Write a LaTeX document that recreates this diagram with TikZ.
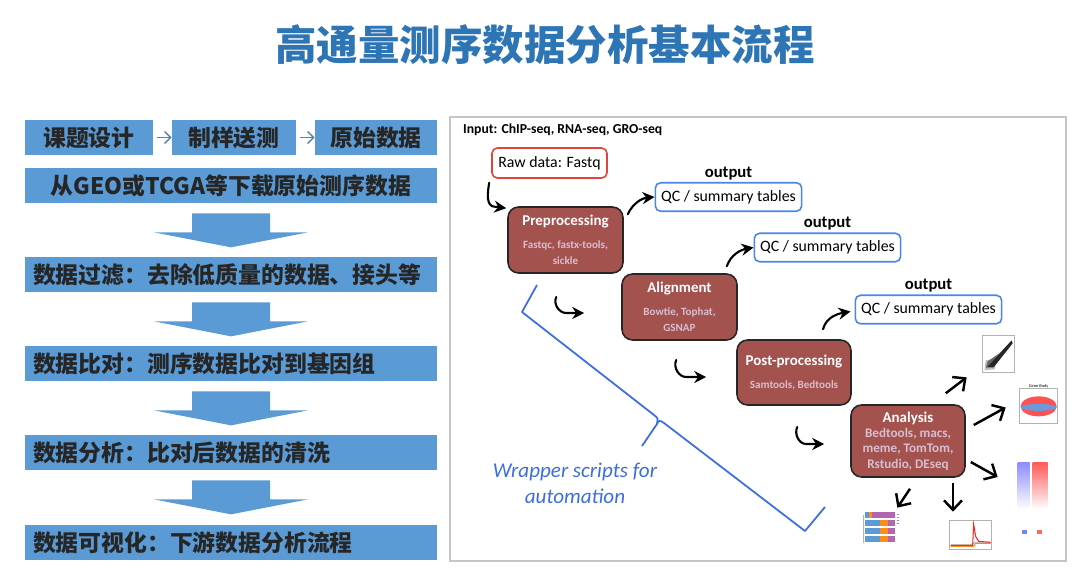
\documentclass[tikz,border=0pt]{standalone}
\usepackage{fontspec}
\setmainfont{Carlito}
\newfontfamily\cjk{Noto Sans CJK SC}
\usepackage{tikz}
\usetikzlibrary{arrows.meta,positioning,calc}
\definecolor{cTitle}{RGB}{46,117,182}
\definecolor{cBox}{RGB}{91,155,213}
\definecolor{cTxt}{RGB}{38,38,38}
\definecolor{cStep}{RGB}{164,82,78}
\definecolor{cTool}{RGB}{215,190,208}
\definecolor{cQC}{RGB}{74,134,232}
\definecolor{cRaw}{RGB}{226,68,58}
\definecolor{cWrap}{RGB}{60,110,225}
\newcommand\stephd[1]{{\color{white}\bfseries\fontsize{8.5}{10}\selectfont #1}}

\begin{document}
\begin{tikzpicture}[x=0.02cm, y=0.02cm,
  lbox/.style={rectangle, fill=cBox, minimum height=0.7cm, inner sep=0pt,
    font=\cjk\bfseries\fontsize{13}{15}\selectfont, text=cTxt},
  wbox/.style={lbox, minimum width=8.24cm, inner xsep=0.16cm, text width=7.92cm, align=left},
  sarr/.style={-{Straight Barb[length=1.2mm, width=2.4mm]}, line width=0.8pt, draw=cBox!85!black, shorten <=2pt},
  raw/.style={rectangle, rounded corners=3pt, draw=cRaw, line width=0.9pt, fill=white,
    minimum width=2.3cm, minimum height=0.6cm, font=\fontsize{9}{11}\selectfont},
  qc/.style={rectangle, rounded corners=3pt, draw=cQC, line width=0.9pt, fill=white,
    minimum height=0.57cm, font=\fontsize{9}{11}\selectfont,
    label={[font=\bfseries\fontsize{9.5}{11}\selectfont, inner sep=1pt]above:output}},
  stp/.style={rectangle, rounded corners=6pt, draw=black!85, line width=0.9pt, fill=cStep,
    align=center, minimum width=2.3cm, minimum height=1.32cm, inner sep=2pt,
    text=cTool, font=\bfseries\fontsize{6.3}{9}\selectfont},
  carr/.style={-{Stealth[length=2.4mm, width=2.4mm]}, line width=1.2pt, draw=black, line cap=round},
  parr/.style={-{Straight Barb[length=1.9mm, width=3.6mm]}, line width=1.4pt, draw=black},
  plt/.style={rectangle, inner sep=0pt, fill=white},
  pfr/.style={draw=gray!60, line width=0.3pt}]

\useasboundingbox (0,0) rectangle (1080,-572);
\fill[white] (0,0) rectangle (1080,-572);

\node[font=\cjk\bfseries\fontsize{23.6}{28}\selectfont, text=cTitle] (title) at (545,-45) {高通量测序数据分析基本流程};

% left column
\node[lbox, minimum width=2.56cm] (t1) at (89,-137.5) {课题设计};
\node[lbox, minimum width=2.48cm] (t2) at (234,-137.5) {制样送测};
\node[lbox, minimum width=2.44cm] (t3) at (376,-137.5) {原始数据};
\draw[sarr] (t1) -- (t2);
\draw[sarr] (t2) -- (t3);
\node[wbox, align=center] (b0) at (231,-185.5) {从GEO或TCGA等下载原始测序数据};
\node[wbox] (b1) at (231,-274.5) {数据过滤：去除低质量的数据、接头等};
\node[wbox] (b2) at (231,-363.5) {数据比对：测序数据比对到基因组};
\node[wbox] (b3) at (231,-452.5) {数据分析：比对后数据的清洗};
\node[wbox] (b4) at (231,-542.5) {数据可视化：下游数据分析流程};
\foreach \a in {b0,b1,b2,b3}
  \fill[cBox] ($(\a.south)+(-39,-10)$) -- ++(78,0) -- ++(0,-19) -- ++(38,0)
    -- ($(\a.south)+(0,-44)$) -- ($(\a.south)+(-77,-29)$) -- ++(38,0) -- cycle;

% right panel
\draw[gray!45, line width=0.6pt] (450,-117) rectangle (1066,-561);
\node[anchor=west, font=\bfseries\fontsize{7.8}{9}\selectfont] (inp) at (457,-130) {Input: ChIP-seq, RNA-seq, GRO-seq};
\node[raw] (raw) at (549.5,-163) {Raw data: Fastq};
\node[qc, minimum width=2.86cm] (qc1) at (728.5,-197) {QC / summary tables};
\node[qc, minimum width=2.78cm] (qc2) at (827.5,-247.5) {QC / summary tables};
\node[qc, minimum width=2.86cm] (qc3) at (928.5,-309.5) {QC / summary tables};

\node[stp] (pre) at (565.5,-240) {\stephd{Preprocessing}\\[4pt]Fastqc, fastx-tools,\\sickle};
\node[stp] (aln) at (679.5,-307) {\stephd{Alignment}\\[4pt]Bowtie, Tophat,\\GSNAP};
\node[stp, minimum width=2.28cm, minimum height=1.3cm] (post) at (794,-372.5) {\stephd{Post-processing}\\[4pt]Samtools, Bedtools};
\node[stp, minimum width=2.28cm, minimum height=1.44cm, font=\bfseries\fontsize{7.5}{8.8}\selectfont] (ana) at (908,-441)
  {\stephd{Analysis}\\Bedtools, macs,\\meme, TomTom,\\Rstudio, DEseq};

\draw[carr] ($(raw.south west)+(-2,-4)$) to[out=-100, in=180] ($(raw.south west)+(4,-28)$) -- ($(pre.north west)+(-1,-2)$);
\draw[carr] ($(pre.north east)+(4,-8)$) to[out=65, in=185] (qc1.west);
\draw[carr] ($(aln.north east)+(-11,7)$) to[out=70, in=190] (qc2.west);
\draw[carr] ($(post.north)+(29,10)$) to[out=75, in=190] ($(qc3.west)+(-4,-2)$);
\draw[carr] ($(aln.west)+(-65,10)$) to[out=-115, in=180] ($(aln.west)+(-55,-6)$) -- ($(aln.west)+(-37,-6)$);
\draw[carr] ($(post.west)+(-60,12.5)$) to[out=-115, in=180] ($(post.west)+(-50,-4.5)$) -- ($(post.west)+(-30,-4.5)$);
\draw[carr] ($(ana.west)+(-53,14)$) to[out=-115, in=180] ($(ana.west)+(-44,-3)$) -- ($(ana.west)+(-26,-3)$);

% brace
\draw[cWrap, line width=1pt, line join=round] (537,-285) -- (522,-312) -- (654,-415)
  .. controls (658,-418) .. (657,-424) -- (642,-446);
\draw[cWrap, line width=1pt, line join=round] (657,-424) .. controls (659,-420) .. (664,-423)
  -- (805,-531) -- (825,-507);
\node[font=\itshape\fontsize{12}{14.8}\selectfont, text=cWrap, align=center] (wrap) at (575,-483)
  {Wrapper scripts for\\automation};

% result plots
\node[plt, minimum width=0.84cm, minimum height=1cm] (p1) at (994,-355) {};
\node[plt, minimum width=0.96cm, minimum height=0.9cm] (p2) at (1034,-407.5) {};
\node[plt, minimum width=0.74cm, minimum height=1.74cm] (p3) at (1031.5,-491.5) {};
\node[plt, minimum width=1cm, minimum height=0.84cm] (p4) at (883,-536) {};
\node[plt, minimum width=1cm, minimum height=0.82cm] (p5) at (970,-537.5) {};

\begin{scope}[shift={(p1.south west)}]
  \draw[pfr] (10,8) rectangle (42,45);
  \fill[gray!50] (12,10) -- (22,11) -- (24,22) -- (13,20) -- cycle;
  \fill[black!85] (14,13) -- (39,40) -- (40,37) -- (21,13) -- cycle;
  \fill[black!60] (13,12) -- (28,28) -- (15,19) -- cycle;
\end{scope}
\begin{scope}[shift={(p2.south west)}]
  \draw[pfr] (10,7) rectangle (48,42);
  \fill[red!80, opacity=0.85] (29,24) ellipse (18 and 10);
  \fill[cyan!50!blue!60] (29,23) ellipse (18 and 3.5);
  \node[font=\fontsize{2.5}{3}\selectfont] at (29,44.5) {Gene Body};
\end{scope}
\begin{scope}[shift={(p3.south west)}]
  \shade[top color=blue!45, bottom color=white] (5,26) rectangle (17,73);
  \shade[top color=red!65, bottom color=white] (20,26) rectangle (35,73);
  \fill[blue!50] (9,1) rectangle (14,5);
  \fill[red!60] (24,1) rectangle (29,5);
\end{scope}
\begin{scope}[shift={(p4.south west)}]
  \draw[pfr] (6,14) -- (6,42) ;
  \foreach \r in {0,1,2}
    { \fill[cBox] (7,15+\r*8) rectangle (22,21+\r*8);
      \fill[orange!90] (22,15+\r*8) rectangle (30,21+\r*8);
      \fill[violet!60] (30,15+\r*8) rectangle (37,21+\r*8); }
  \fill[cBox] (7,39) rectangle (11,45);
  \fill[orange!90] (11,39) rectangle (14,45);
  \fill[violet!60] (14,39) rectangle (37,45);
  \foreach \c [count=\i] in {cBox,orange!90,violet!60,red!60}
    \fill[\c] (39,45-\i*3) rectangle (41,46.5-\i*3);
\end{scope}
\begin{scope}[shift={(p5.south west)}]
  \draw[pfr] (5,9) rectangle (47,38);
  \draw[gray!70, line width=0.4pt] (6,14) -- (28,14) -- (30,16) -- (46,16);
  \draw[orange!90, line width=0.5pt] (6,12) -- (29,12) -- (31,15) -- (46,15);
  \draw[red!85, line width=0.6pt] (6,13) -- (28,13) -- (29,34) -- (31,22) -- (34,17) -- (46,16);
\end{scope}

\draw[parr] ($(ana.north east)+(-20,11)$) -- ($(p1.south west)+(-6,3)$);
\draw[parr] ($(ana.east)+(8,16)$) -- ($(p2.west)+(-4,0)$);
\draw[parr] ($(ana.east)+(5,-21)$) -- ($(p3.west)+(-15,14.5)$);
\draw[parr] ($(ana.south)+(2,-11)$) -- ($(p4.north east)+(-11,7)$);
\draw[parr] ($(ana.south)+(45,-5)$) -- ($(p5.north)+(-17,5)$);
\end{tikzpicture}
\end{document}
